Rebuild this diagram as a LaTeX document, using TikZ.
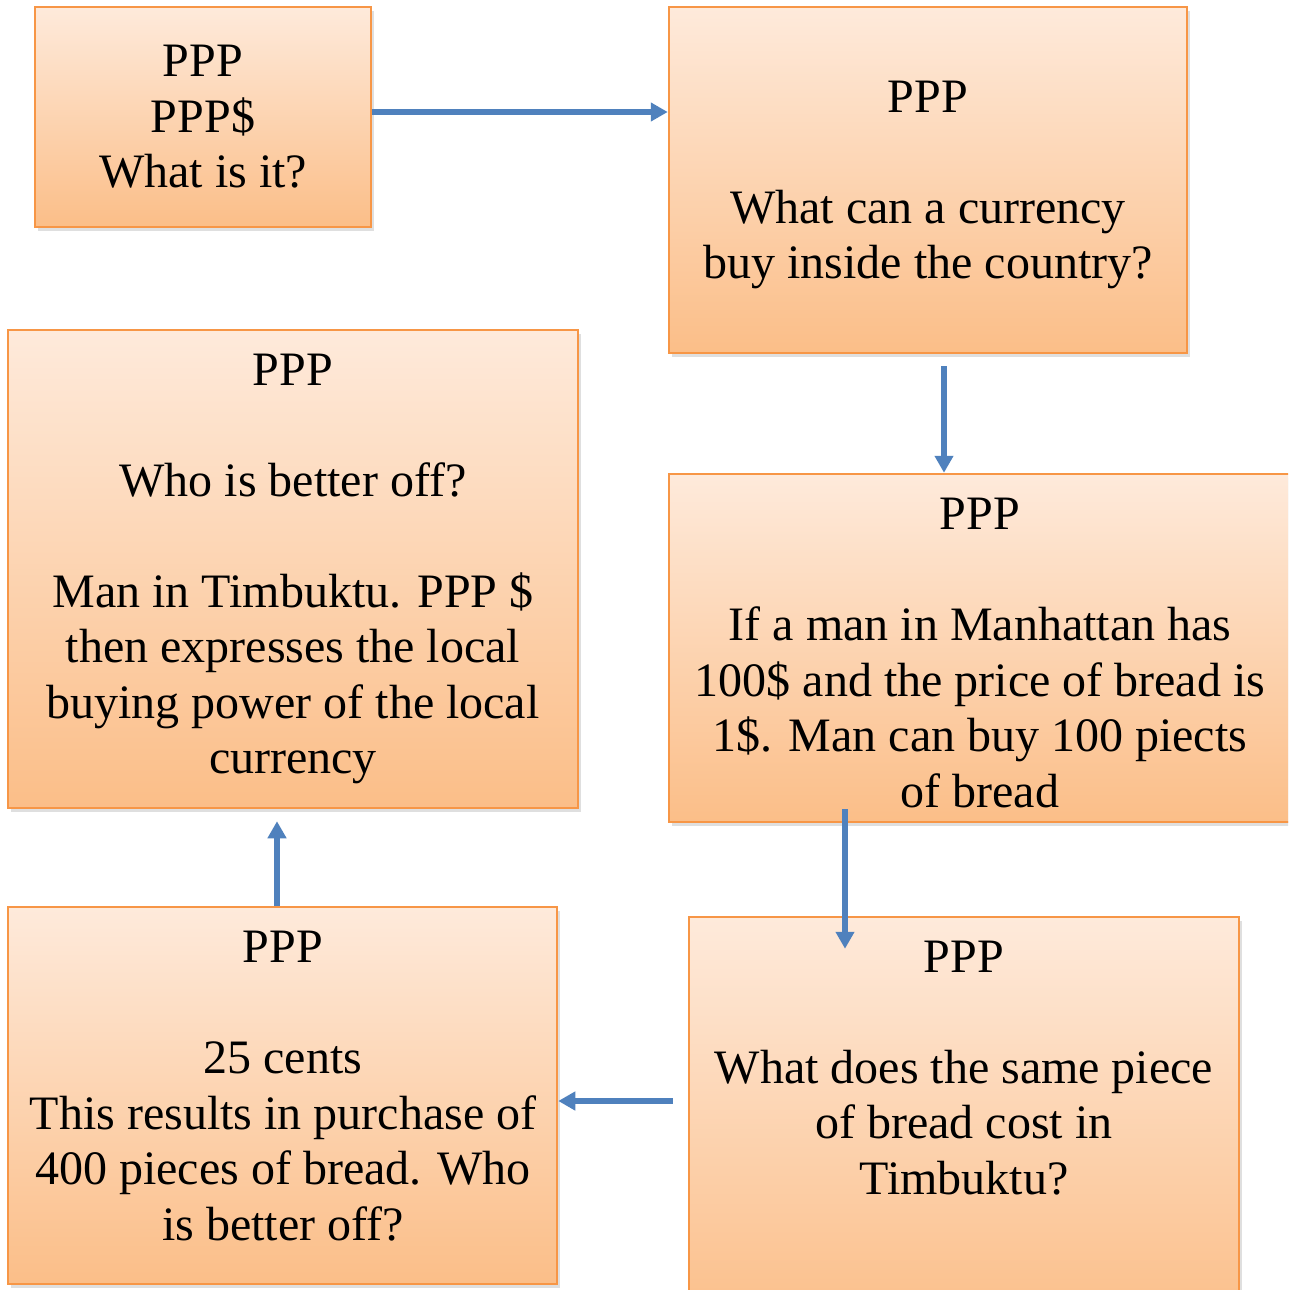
\documentclass[tikz,border=0pt]{standalone}
\usepackage{fontspec}
\setmainfont{Liberation Serif}
\usepackage{tikz}
\usetikzlibrary{arrows.meta,shadows}
\definecolor{boxtop}{RGB}{254,234,219}
\definecolor{boxbot}{RGB}{251,190,136}
\definecolor{boxline}{RGB}{247,150,70}
\definecolor{flowblue}{RGB}{79,129,189}

\begin{document}
\begin{tikzpicture}[x=1pt,y=1pt,
	pppbox/.style={draw=boxline, line width=2.5pt, top color=boxtop, bottom color=boxbot, inner sep=0pt, align=center, font=\fontsize{48}{55.5}\selectfont, drop shadow={opacity=0.25, shadow xshift=3pt, shadow yshift=-4pt}},
	ppptext/.style={inner sep=0pt, align=center, font=\fontsize{48}{55.5}\selectfont},
	flow/.style={-{Triangle[length=17pt,width=18pt]}, line width=5.5pt, flowblue}]
	%\draw[help lines] (0,0) grid (1288,-1290);
	\useasboundingbox (0,0) rectangle (1288,-1290);
	\clip (0,0) rectangle (1288,-1290);
	\fill[white] (0,0) rectangle (1288,-1290);
	\node[pppbox, minimum width=336pt, minimum height=220pt] (what) at (203,-117) {PPP\\PPP\$\\What is it?};
	\node[pppbox, minimum width=518pt, minimum height=346pt] (curr) at (928,-180) {};
	\node[ppptext] (currtext) at (928,-185) {PPP\\[55.5pt]What can a currency\\buy inside the country?};
	\node[pppbox, minimum width=622pt, minimum height=348pt] (man) at (980,-648) {};
	\node[ppptext] (mantext) at (980,-653) {PPP\\[55.5pt]If a man in Manhattan has\\100\$ and the price of bread is\\1\$. Man can buy 100 piects\\of bread};
	\node[pppbox, minimum width=550pt, minimum height=413pt] (cost) at (964,-1123.5) {};
	\node[ppptext] (costtext) at (964,-1068) {PPP\\[55.5pt]What does the same piece\\of bread cost in\\Timbuktu?};
	\node[pppbox, minimum width=549pt, minimum height=377pt] (cents) at (282.5,-1095.5) {};
	\node[ppptext] (centstext) at (283,-1086) {PPP\\[55.5pt]25 cents\\This results in purchase of\\400 pieces of bread. Who\\is better off?};
	\node[pppbox, minimum width=570pt, minimum height=478pt] (better) at (293,-569) {PPP\\[55.5pt]Who is better off?\\[55.5pt]Man in Timbuktu. PPP \$\\then expresses the local\\buying power of the local\\currency};
	% arrows
	\coordinate (ab) at ([yshift=5pt]what.east);
	\coordinate (bc) at ([xshift=16pt,yshift=-12pt]curr.south);
	\coordinate (cd) at ([xshift=-135pt,yshift=14pt]man.south);
	\coordinate (cd2) at ([yshift=-33pt]cost.north);
	\coordinate (de) at ([yshift=-5.5pt]cents.east);
	\coordinate (de0) at ([xshift=-15pt]cost.west);
	\coordinate (ef) at ([xshift=-5.5pt]cents.north);
	\coordinate (ef2) at ([yshift=-12pt]better.south);
	\draw[flow] (ab) -- (ab -| curr.west);
	\draw[flow] (bc) -- (bc |- man.north);
	\draw[flow] (cd) -- (cd |- cd2);
	\draw[flow] (de0 |- de) -- (de);
	\draw[flow] (ef) -- (ef |- ef2);
\end{tikzpicture}
\end{document}
